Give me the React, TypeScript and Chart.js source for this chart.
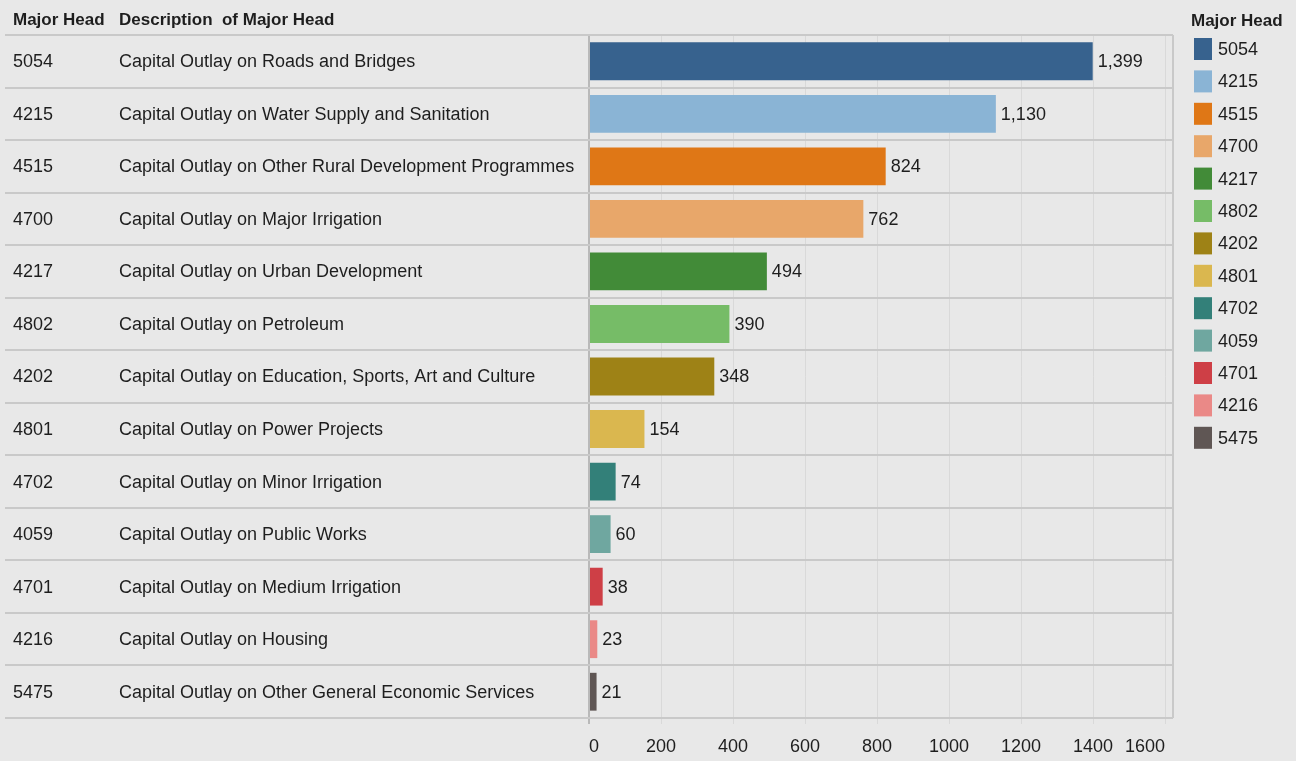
import React, { useEffect, useRef } from "react";
import { Chart, registerables } from "chart.js";

Chart.register(...registerables);

const codes = ["5054", "4215", "4515", "4700", "4217", "4802", "4202", "4801", "4702", "4059", "4701", "4216", "5475"];
const descriptions = [
  "Capital Outlay on Roads and Bridges",
  "Capital Outlay on Water Supply and Sanitation",
  "Capital Outlay on Other Rural Development Programmes",
  "Capital Outlay on Major Irrigation",
  "Capital Outlay on Urban Development",
  "Capital Outlay on Petroleum",
  "Capital Outlay on Education, Sports, Art and Culture",
  "Capital Outlay on Power Projects",
  "Capital Outlay on Minor Irrigation",
  "Capital Outlay on Public Works",
  "Capital Outlay on Medium Irrigation",
  "Capital Outlay on Housing",
  "Capital Outlay on Other General Economic Services",
];
const values = [1399, 1130, 824, 762, 494, 390, 348, 154, 74, 60, 38, 23, 21];
const colors = [
  "#37628e", "#8ab4d5", "#df7716", "#e8a76a", "#428b38", "#76bc67", "#9e8216",
  "#dab74f", "#338079", "#6fa7a0", "#ce3f46", "#ea8987", "#5f5654",
];
const tickValues = [0, 200, 400, 600, 800, 1000, 1200, 1400, 1600];
const axisMax = 1622;
const headerCode = "Major Head";
const headerDesc = "Description  of Major Head";
const legendTitle = "Major Head";

const BG = "#e8e8e8";
const TEXT = "#1e1e1e";
const FONT = "Liberation Sans, Arial, sans-serif";
const ROWLINE = "#c9c9c9";

const tablePlugin = {
  id: "tablePlugin",
  beforeDraw(chart: any) {
    const { ctx, width, height } = chart;
    ctx.save();
    ctx.fillStyle = BG;
    ctx.fillRect(0, 0, width, height);
    ctx.restore();
  },
  beforeDatasetsDraw(chart: any) {
    const { ctx, chartArea } = chart;
    const y = chart.scales.y;
    const n = codes.length;
    ctx.save();
    ctx.strokeStyle = ROWLINE;
    ctx.lineWidth = 2;
    for (let i = 0; i <= n; i++) {
      const yy = i === 0 ? chartArea.top : i === n ? chartArea.bottom : (y.getPixelForValue(i - 1) + y.getPixelForValue(i)) / 2;
      ctx.beginPath();
      ctx.moveTo(5, Math.round(yy));
      ctx.lineTo(chartArea.right, Math.round(yy));
      ctx.stroke();
    }
    ctx.beginPath();
    ctx.moveTo(chartArea.right, chartArea.top);
    ctx.lineTo(chartArea.right, chartArea.bottom);
    ctx.stroke();
    ctx.restore();
  },
  afterDatasetsDraw(chart: any) {
    const { ctx } = chart;
    const y = chart.scales.y;
    ctx.save();
    ctx.fillStyle = TEXT;
    ctx.textBaseline = "middle";
    ctx.textAlign = "left";
    ctx.font = `bold 17px ${FONT}`;
    ctx.fillText(headerCode, 13, 20);
    ctx.fillText(headerDesc, 119, 20);
    ctx.font = `18px ${FONT}`;
    codes.forEach((c, i) => {
      const yy = y.getPixelForValue(i);
      ctx.fillText(c, 13, yy + 1);
      ctx.fillText(descriptions[i], 119, yy + 1);
    });
    const meta = chart.getDatasetMeta(0);
    meta.data.forEach((el: any, i: number) => {
      ctx.fillText(values[i].toLocaleString("en-US"), el.x + 5, el.y + 1);
    });
    ctx.font = `bold 17px ${FONT}`;
    ctx.fillText(legendTitle, 1191, 21);
    ctx.font = `18px ${FONT}`;
    codes.forEach((c, i) => {
      const cy = 49 + i * 32.4;
      ctx.fillStyle = colors[i];
      ctx.fillRect(1194, cy - 11, 18, 22);
      ctx.fillStyle = TEXT;
      ctx.fillText(c, 1218, cy + 1);
    });
    ctx.restore();
  },
};

export default function App() {
  const ref = useRef<HTMLCanvasElement>(null);
  useEffect(() => {
    if (!ref.current) return;
    const chart = new Chart(ref.current, {
      type: "bar",
      data: {
        labels: codes,
        datasets: [
          {
            data: values,
            backgroundColor: colors,
            borderWidth: 0,
            barPercentage: 0.72,
            categoryPercentage: 1,
          },
        ],
      },
      options: {
        indexAxis: "y",
        animation: false,
        responsive: true,
        maintainAspectRatio: false,
        layout: { padding: { top: 35, left: 589, right: 123, bottom: 0 } },
        plugins: { legend: { display: false }, tooltip: { enabled: false } },
        scales: {
          x: {
            type: "linear",
            min: 0,
            max: axisMax,
            border: { display: false },
            grid: {
              color: (c: any) => (c.tick && c.tick.value === 0 ? "#b9b9b9" : "#d9d9d9"),
              lineWidth: (c: any) => (c.tick && c.tick.value === 0 ? 2 : 1),
              tickLength: 6,
              drawTicks: true,
            },
            afterBuildTicks: (s: any) => {
              s.min = 0;
              s.max = axisMax;
              s.ticks = tickValues.map((v) => ({ value: v }));
            },
            ticks: {
              align: "inner",
              color: TEXT,
              padding: 12,
              font: { family: FONT, size: 18 },
              maxRotation: 0,
              autoSkip: false,
              callback: (v: any) => String(v),
            },
            afterFit: (s: any) => {
              s.height = 43;
            },
          },
          y: { display: false },
        },
      },
      plugins: [tablePlugin],
    } as any);
    return () => chart.destroy();
  }, []);
  return (
    <div style={{ position: "absolute", left: 0, top: 0, width: 1296, height: 761, background: BG }}>
      <canvas ref={ref} />
    </div>
  );
}
